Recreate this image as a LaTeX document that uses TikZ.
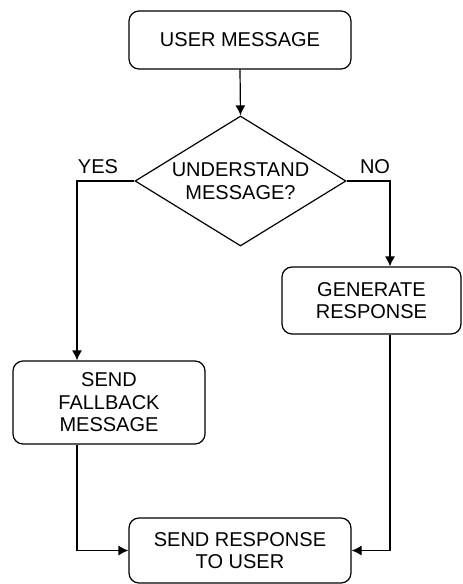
\documentclass[tikz,border=0pt]{standalone}
\usepackage{fontspec}
\setmainfont{Liberation Sans}
\usetikzlibrary{positioning, arrows, arrows.meta, shapes, calc}

\begin{document}
\begin{tikzpicture}[x=1pt, y=-1pt, line width=0.6pt,
	box/.style={draw, rectangle, rounded corners=5pt, text centered, align=center, 
	inner sep=0pt, font=\fontsize{10}{11.3}\selectfont},
	decision/.style={draw, diamond, aspect=1.62, text centered, align=center, 
	inner sep=0pt, font=\fontsize{10}{11.3}\selectfont},
	answer/.style={text centered, inner sep=0pt, font=\fontsize{10}{11.3}\selectfont},
	link/.style={-{Latex[length=5pt, width=5pt]}}]
		\useasboundingbox (0,0) rectangle (231,292);
		
		%Main flow
		\node (User Message) at (120,20) [box, minimum height=29pt, minimum 
		width=111pt]{USER MESSAGE};
		\node (Understand) at (120.25,90.5) [decision, minimum height=65pt, minimum 
		width=105.5pt]{UNDERSTAND\\MESSAGE?};
		
		%Branches
		\node (Generate Response) at (185.75,150.25) [box, minimum height=33.5pt, minimum 
		width=89.5pt]{GENERATE\\RESPONSE};
		\node (Send Fallback) at (54.5,201.25) [box, minimum height=41.5pt, minimum 
		width=96pt]{SEND\\FALLBACK\\MESSAGE};
		\node (Send Response) at (120,275.25) [box, minimum height=32.5pt, minimum 
		width=111pt]{SEND RESPONSE\\TO USER};
		
		%Writing on the branches
		\node (Yes) at (49,83.5) [answer]{YES};
		\node (No) at (187.5,83.5) [answer]{NO};
		\coordinate (yes turn) at (38.5,90.5);
		\coordinate (no turn) at (195,90.5);
		
		%Links among blocks
		\draw[link] (User Message.south) -- (Understand.north);
		\draw[link] (Understand.west) -- (yes turn) -- (yes turn |- Send Fallback.north);
		\draw[link] (Understand.east) -- (no turn) -- (no turn |- Generate Response.north);
		\draw[link] (Send Fallback.south -| yes turn) |- (Send Response.west);
		\draw[link] (Generate Response.south -| no turn) |- (Send Response.east);
		
\end{tikzpicture}
\end{document}
